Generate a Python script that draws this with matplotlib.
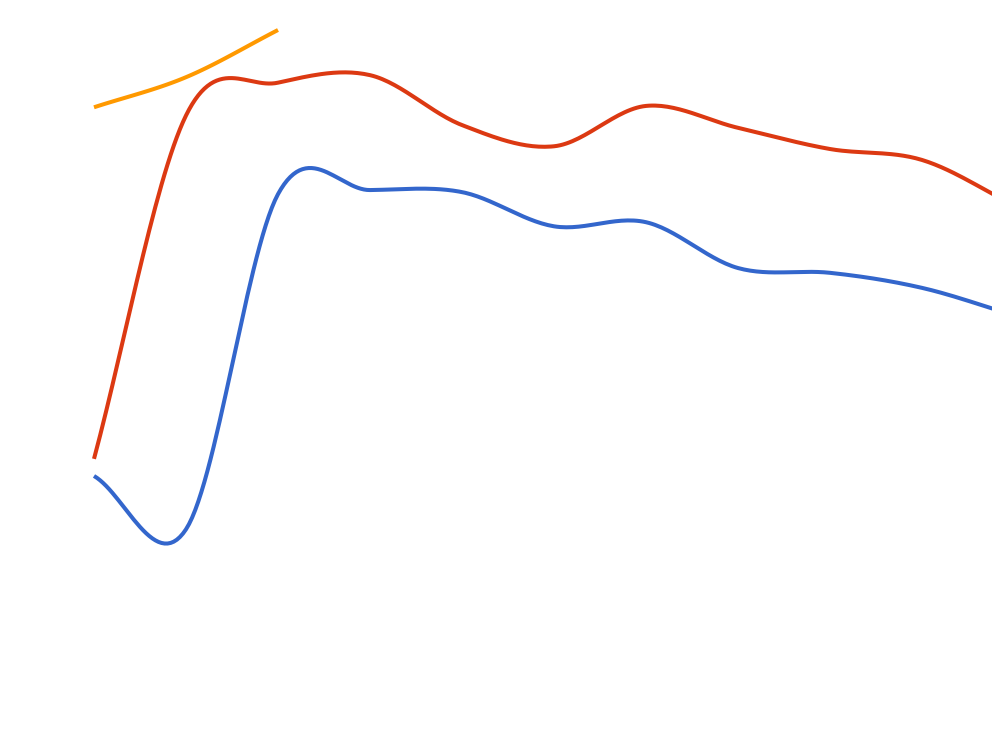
import numpy as np
import matplotlib
matplotlib.use("Agg")
import matplotlib.pyplot as plt

# Data (index positions 0..10, values on a 0-100 scale)
x_idx = list(range(11))
series_a = [34.8, 27.0, 76.0, 76.6, 76.3, 71.3, 71.9, 65.2, 64.5, 62.3, 58.3]   # blue
series_b = [37.3, 87.5, 92.3, 93.4, 86.1, 83.0, 88.9, 85.7, 82.6, 81.0, 74.4]   # red
series_c = [88.7, 93.1, 100.0]                                                   # orange

colors = ["#3366CC", "#DC3912", "#FF9900"]


def smooth(xs, ys, n=30, t=0.5):
    xs = np.asarray(xs, float)
    ys = np.asarray(ys, float)
    px = np.concatenate([[2 * xs[0] - xs[1]], xs, [2 * xs[-1] - xs[-2]]])
    py = np.concatenate([[2 * ys[0] - ys[1]], ys, [2 * ys[-1] - ys[-2]]])
    ox, oy = [], []
    for i in range(1, len(px) - 2):
        mx0 = (px[i + 1] - px[i - 1]) * t
        mx1 = (px[i + 2] - px[i]) * t
        my0 = (py[i + 1] - py[i - 1]) * t
        my1 = (py[i + 2] - py[i]) * t
        s = np.linspace(0, 1, n, endpoint=(i == len(px) - 3))
        h00 = 2 * s**3 - 3 * s**2 + 1
        h10 = s**3 - 2 * s**2 + s
        h01 = -2 * s**3 + 3 * s**2
        h11 = s**3 - s**2
        ox.append(h00 * px[i] + h10 * mx0 + h01 * px[i + 1] + h11 * mx1)
        oy.append(h00 * py[i] + h10 * my0 + h01 * py[i + 1] + h11 * my1)
    return np.concatenate(ox), np.concatenate(oy)


fig = plt.figure(figsize=(9.92, 7.44), dpi=100)
ax = fig.add_axes([0, 0, 1, 1])
for ys, c in zip([series_a, series_b, series_c], colors):
    sx, sy = smooth(x_idx[:len(ys)], ys)
    ax.plot(sx, sy, color=c, lw=2.9, solid_capstyle="butt")

ax.set_xlim(-94 / 92, (992 - 94) / 92)
ax.set_ylim((714 - 744) / 6.84, 714 / 6.84)
ax.axis("off")
fig.savefig("out.png", dpi=100)
